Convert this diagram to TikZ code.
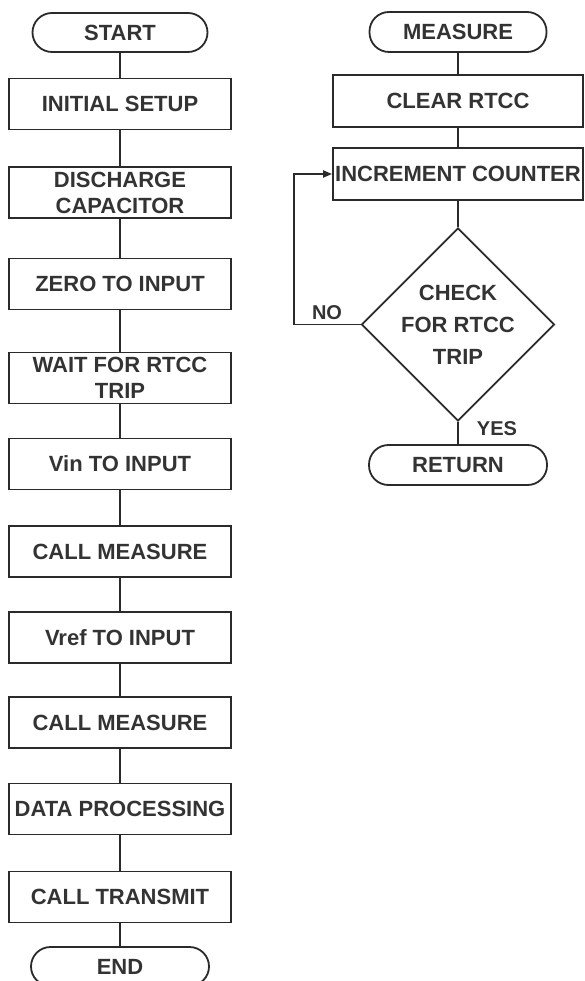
\documentclass[tikz,border=0pt]{standalone}
\usepackage{fontspec}
\setmainfont{Liberation Sans}
\usetikzlibrary{shapes.geometric,arrows.meta}
\definecolor{ink}{HTML}{2A2A2A}
\definecolor{txt}{HTML}{333333}
\begin{document}
\begin{tikzpicture}[x=1pt,y=-1pt,
  every node/.style={font=\fontsize{22}{26}\selectfont\bfseries, text=txt, inner sep=0pt, align=center},
  term/.style={draw=ink, line width=1.8pt, rounded corners=19.5pt, minimum height=39pt},
  procbox/.style={draw=ink, line width=1.8pt, minimum width=222pt, minimum height=51pt},
  rbox/.style={draw=ink, line width=1.8pt, minimum width=250pt, minimum height=52pt},
  dec/.style={draw=ink, line width=1.8pt, diamond, minimum width=184pt, minimum height=187pt, font=\fontsize{22}{32}\selectfont\bfseries},
  conn/.style={draw=ink, line width=1.8pt},
  lbl/.style={font=\fontsize{20}{24}\selectfont\bfseries}
]
\useasboundingbox (0,0) rectangle (584,981);
% left column
\node[term, minimum width=175pt] (start) at (120,32.5) {START};
\node[procbox] (setup) at (120,104) {INITIAL SETUP};
\node[procbox] (dis) at (120,192.5) {DISCHARGE\\CAPACITOR};
\node[procbox] (zero) at (120,284) {ZERO TO INPUT};
\node[procbox] (wait) at (120,378) {WAIT FOR RTCC\\TRIP};
\node[procbox] (vin) at (120,464) {Vin TO INPUT};
\node[procbox] (cm1) at (120,551.5) {CALL MEASURE};
\node[procbox] (vref) at (120,637.5) {Vref TO INPUT};
\node[procbox] (cm2) at (120,722.5) {CALL MEASURE};
\node[procbox] (data) at (120,809) {DATA PROCESSING};
\node[procbox] (tx) at (120,897) {CALL TRANSMIT};
\node[term, minimum width=178pt] (end) at (120,966.5) {END};
\foreach \a/\b in {start/setup,setup/dis,dis/zero,zero/wait,wait/vin,vin/cm1,cm1/vref,vref/cm2,cm2/data,data/tx,tx/end}
  \draw[conn] (\a) -- (\b);
% right column
\node[term, minimum width=177pt, minimum height=40pt] (meas) at (458,32) {MEASURE};
\node[rbox] (clr) at (458,101) {CLEAR RTCC};
\node[rbox] (inc) at (458,174) {INCREMENT COUNTER};
\node[dec] (chk) at (458,324.5) {CHECK\\FOR RTCC\\TRIP};
\node[term, minimum width=178pt, minimum height=40pt] (ret) at (458,465) {RETURN};
\draw[conn] (meas) -- (clr);
\draw[conn] (clr) -- (inc);
\draw[conn] (inc) -- (chk);
\draw[conn] (chk) -- (ret);
\coordinate (lp) at (294,324.5);
\draw[conn, -{Triangle[length=9pt,width=7pt]}] (chk.west) -- (lp) |- (inc.west);
\node[lbl] (no) at (327,313) {NO};
\node[lbl] (yes) at (497,429) {YES};
\end{tikzpicture}
\end{document}
